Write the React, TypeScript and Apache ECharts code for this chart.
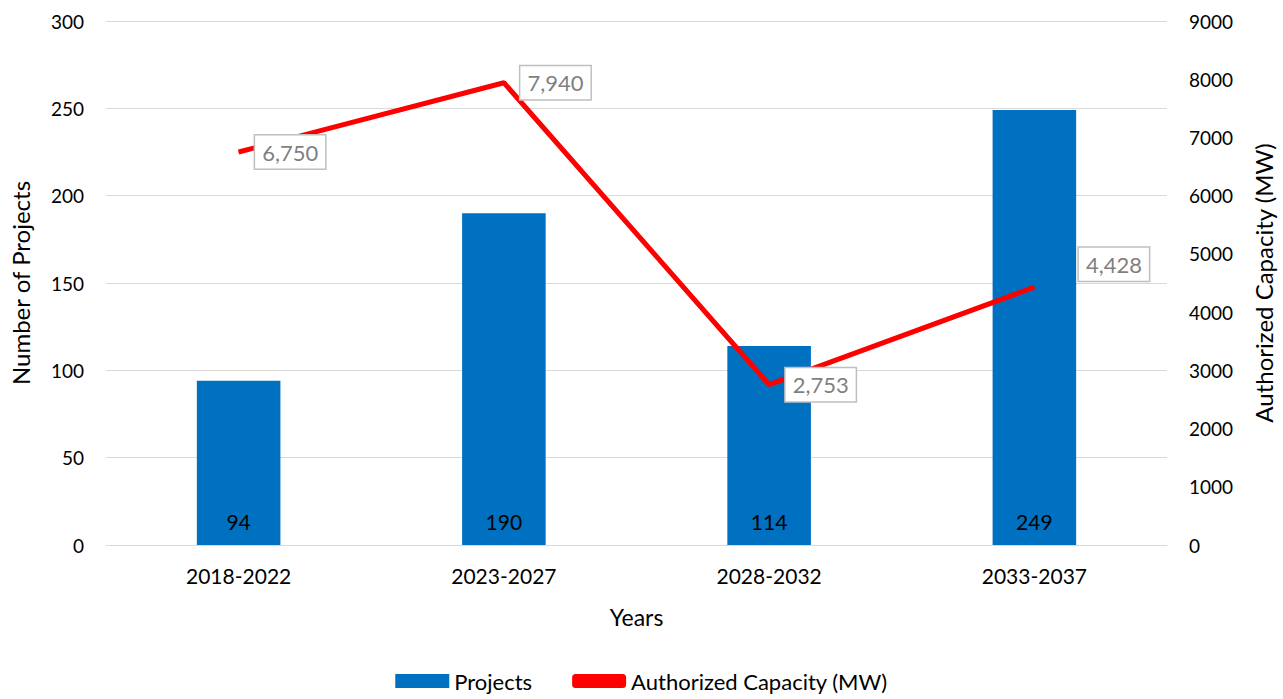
import React, { useEffect, useRef } from "react";
import * as echarts from "echarts";

const categories = ["2018-2022", "2023-2027", "2028-2032", "2033-2037"];
const projects = [94, 190, 114, 249];
const capacity = [6750, 7940, 2753, 4428];
const labelOffsets = [[0, 0], [0, 0], [0, 0], [28, -23]];

const FONT = "Lato, 'Open Sans', sans-serif";

export default function App() {
  const ref = useRef<HTMLDivElement>(null);
  useEffect(() => {
    const chart = echarts.init(ref.current!, undefined, { renderer: "svg" });
    chart.setOption({
      animation: false,
      textStyle: { fontFamily: FONT },
      grid: { left: 102, right: 113, top: 21, bottom: 154 },
      legend: {
        bottom: 2,
        left: "center",
        itemGap: 40,
        textStyle: { fontSize: 22, color: "#000", fontFamily: FONT },
        data: [
          { name: "Projects", icon: "rect", itemStyle: { color: "#0070C0" } },
          { name: "Authorized Capacity (MW)", icon: "roundRect" },
        ],
        itemWidth: 54,
        itemHeight: 14,
      },
      xAxis: {
        type: "category",
        data: categories,
        name: "Years",
        nameLocation: "middle",
        nameGap: 60,
        nameTextStyle: { fontSize: 23, color: "#000" },
        axisLine: { lineStyle: { color: "#d9d9d9" } },
        axisTick: { show: false },
        axisLabel: { fontSize: 21, color: "#000", margin: 20 },
      },
      yAxis: [
        {
          type: "value",
          min: 0,
          max: 300,
          interval: 50,
          name: "Number of Projects",
          nameLocation: "middle",
          nameGap: 74,
          nameTextStyle: { fontSize: 24, color: "#000" },
          axisLabel: { fontSize: 19, color: "#000", margin: 22 },
          splitLine: { lineStyle: { color: "#d9d9d9" } },
        },
        {
          type: "value",
          min: 0,
          max: 9000,
          interval: 1000,
          name: "Authorized Capacity (MW)",
          nameLocation: "middle",
          nameGap: 84,
          nameRotate: 90,
          nameTextStyle: { fontSize: 24, color: "#000" },
          axisLabel: { fontSize: 19, color: "#000", margin: 22, formatter: (v: number) => String(v) },
          splitLine: { show: false },
        },
      ],
      series: [
        {
          name: "Projects",
          type: "bar",
          data: projects,
          barWidth: "31.5%",
          itemStyle: { color: "#0070C0" },
          label: {
            show: true,
            position: "insideBottom",
            distance: 13,
            fontSize: 21,
            color: "#000",
          },
        },
        {
          name: "Authorized Capacity (MW)",
          type: "line",
          yAxisIndex: 1,
          data: capacity.map((v, i) => ({
            value: v,
            label: { offset: labelOffsets[i] },
          })),
          symbol: "circle",
          symbolSize: 1,
          showSymbol: true,
          lineStyle: { color: "#FF0000", width: 5 },
          itemStyle: { color: "#FF0000" },
          label: {
            show: true,
            position: "right",
            distance: 16,
            formatter: (p: any) => Number(p.value).toLocaleString("en-US"),
            fontSize: 22,
            color: "#7f7f7f",
            backgroundColor: "#fff",
            borderColor: "#bfbfbf",
            borderWidth: 1.5,
            padding: [6, 7, 5, 7],
          },
        },
      ],
    });
    return () => chart.dispose();
  }, []);
  return (
    <div
      ref={ref}
      style={{ position: "fixed", left: 0, top: 0, width: 1283, height: 699, background: "#fff" }}
    />
  );
}
